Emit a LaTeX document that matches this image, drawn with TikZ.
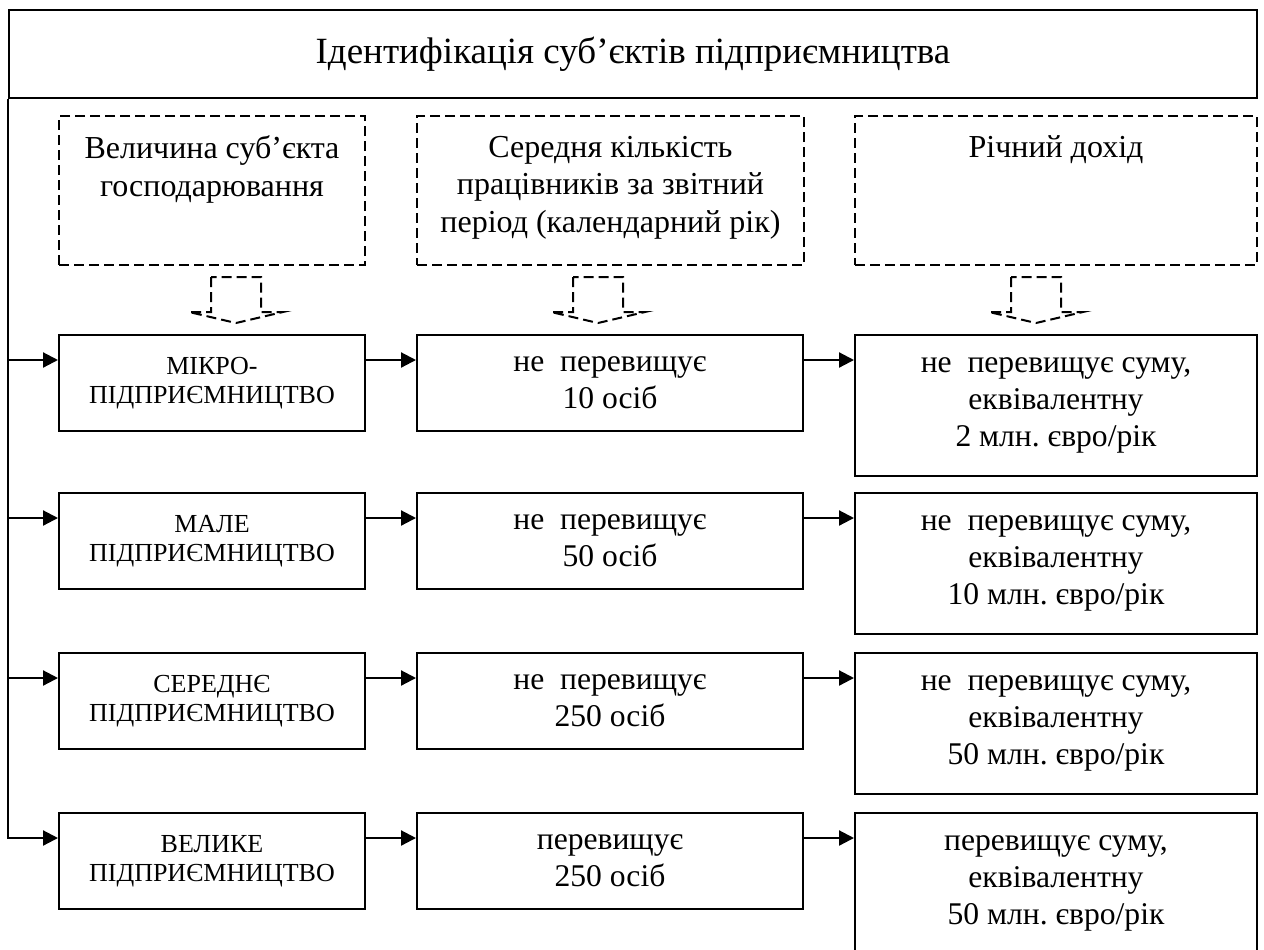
\documentclass[tikz,border=0pt]{standalone}
\usepackage{fontspec}
\setmainfont{Liberation Serif}
\usetikzlibrary{arrows.meta}
\frenchspacing
\begin{document}
\begin{tikzpicture}[x=0.5pt,y=-0.5pt,line width=1pt]
\tikzstyle{titlebox}=[draw, inner sep=0pt, minimum width=624pt, minimum height=44pt, font=\fontsize{18.5}{22}\selectfont]
\tikzstyle{hdrbox}=[draw, dash pattern=on 5pt off 2.5pt, inner sep=0pt, minimum height=74.5pt]
\tikzstyle{hdrtext}=[anchor=north, inner sep=0pt, align=center, font=\fontsize{16}{18.75}\selectfont]
\tikzstyle{kind}=[draw, inner sep=0pt, minimum width=153pt, minimum height=48pt, align=center, font=\fontsize{13}{14.5}\selectfont]
\tikzstyle{staff}=[draw, inner sep=0pt, minimum width=193pt, minimum height=48pt, align=center, font=\fontsize{15.8}{18.5}\selectfont]
\tikzstyle{income}=[draw, inner sep=0pt, minimum width=201pt, minimum height=70.5pt, align=center, font=\fontsize{15.8}{18.5}\selectfont]
\tikzstyle{link}=[-{Triangle[length=7.5pt,width=7.5pt]}, line width=1.1pt]

\useasboundingbox (0,0) rectangle (1264,949);

\node[titlebox] (title) at (633,54) {Ідентифікація суб’єктів підприємництва};

% headers
\node[hdrbox, minimum width=153pt] (size) at (212,190.5) {};
\node[hdrbox, minimum width=193.5pt] (staffnum) at (610.5,190.5) {};
\node[hdrbox, minimum width=201pt] (revenue) at (1056,190.5) {};
\node[hdrtext] (sizetxt) at (212,135) {Величина суб’єкта\\господарювання};
\node[hdrtext] (stafftxt) at (610.5,135) {Середня кількість\\працівників за звітний\\період (календарний рік)};
\node[hdrtext] (revtxt) at (1056,135) {Річний дохід};

\foreach \x in {236,598,1036}
  \draw[dash pattern=on 5pt off 2.5pt] (\x-25,277) -- (\x-25,312) -- (\x-47,312) -- (\x,323)
    -- (\x+47,312) -- (\x+25,312) -- (\x+25,277) -- cycle;

% rows
\node[kind] (micro) at (212,383) {МІКРО-\\ПІДПРИЄМНИЦТВО};
\node[staff] (staff1) at (610,383) {не\ \ перевищує\\10 осіб};
\node[income] (inc1) at (1056,405.5) {не\ \ перевищує суму,\\еквівалентну\\2 млн. євро/рік};

\node[kind] (small) at (212,541) {МАЛЕ\\ПІДПРИЄМНИЦТВО};
\node[staff] (staff2) at (610,541) {не\ \ перевищує\\50 осіб};
\node[income] (inc2) at (1056,563.5) {не\ \ перевищує суму,\\еквівалентну\\10 млн. євро/рік};

\node[kind] (medium) at (212,701) {СЕРЕДНЄ\\ПІДПРИЄМНИЦТВО};
\node[staff] (staff3) at (610,701) {не\ \ перевищує\\250 осіб};
\node[income] (inc3) at (1056,723.5) {не\ \ перевищує суму,\\еквівалентну\\50 млн. євро/рік};

\node[kind] (large) at (212,861) {ВЕЛИКЕ\\ПІДПРИЄМНИЦТВО};
\node[staff] (staff4) at (610,861) {перевищує\\250 осіб};
\node[income] (inc4) at (1056,883.5) {перевищує суму,\\еквівалентну\\50 млн. євро/рік};

\foreach \a/\b/\c in {micro/staff1/inc1, small/staff2/inc2, medium/staff3/inc3, large/staff4/inc4} {
  \draw[link] (title.south west) |- ([yshift=-13pt]\a.north west);
  \draw[link] ([yshift=-13pt]\a.north east) -- ([yshift=-13pt]\b.north west);
  \draw[link] ([yshift=-13pt]\b.north east) -- ([yshift=-13pt]\c.north west);
}
\end{tikzpicture}
\end{document}
